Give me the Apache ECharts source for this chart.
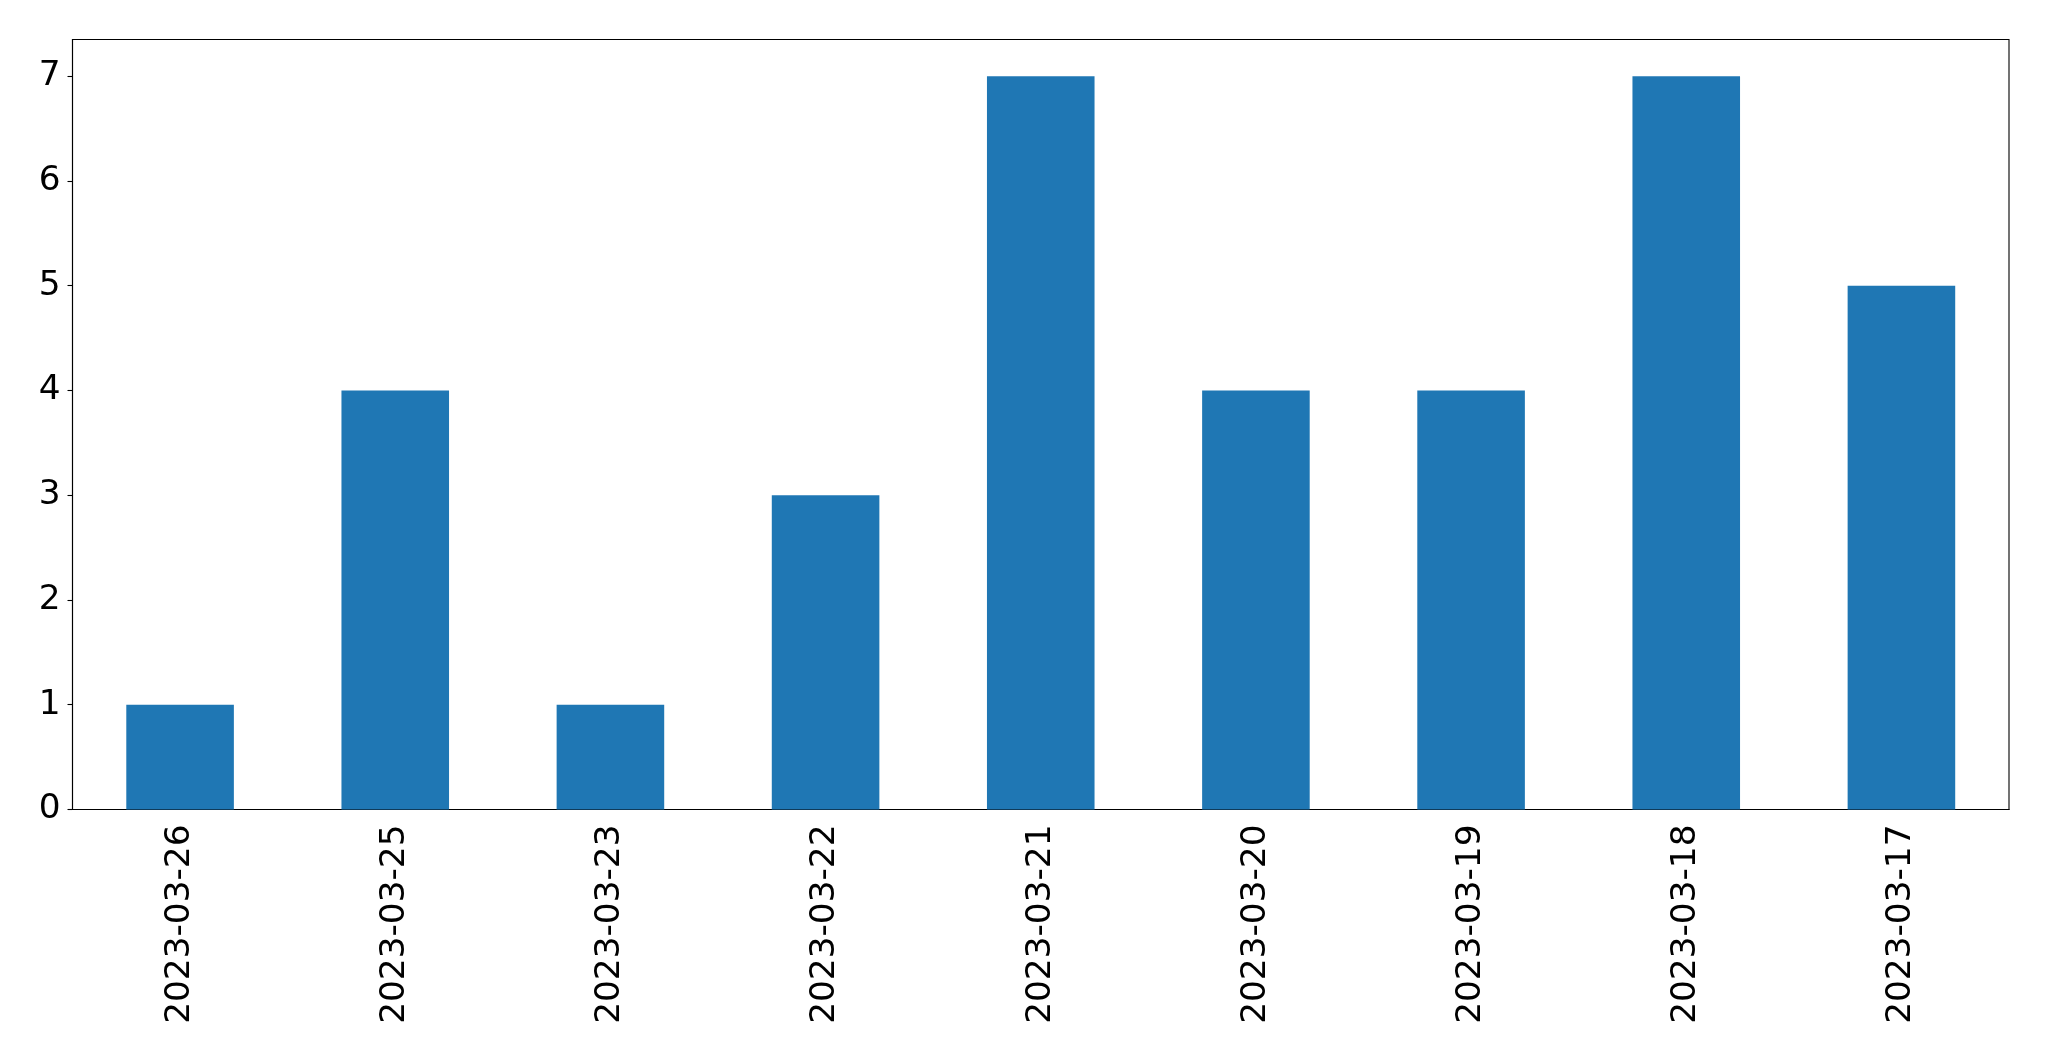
<!DOCTYPE html>
<html>
<head>
<meta charset="utf-8">
<script src="https://cdn.jsdelivr.net/npm/echarts@6/dist/echarts.min.js"></script>
<style>
  html, body { margin: 0; padding: 0; background: #fff; }
  #chart { width: 2049px; height: 1061px; }
</style>
</head>
<body>
<div id="chart"></div>
<script>
const categories = ['2023-03-26', '2023-03-25', '2023-03-23', '2023-03-22', '2023-03-21', '2023-03-20', '2023-03-19', '2023-03-18', '2023-03-17']
const counts = [1, 4, 1, 3, 7, 4, 4, 7, 5]
const yTicks = [0, 1, 2, 3, 4, 5, 6, 7]

const chart = echarts.init(document.getElementById('chart'))
const font = 'DejaVu Sans'

const option = {
  animation: false,
  grid: {
    left: 72.5,
    right: 40,
    top: 39.5,
    bottom: 251.5,
    show: true,
    borderColor: '#000',
    borderWidth: 1.1
  },
  xAxis: {
    type: 'category',
    data: categories,
    boundaryGap: true,
    axisLine: { lineStyle: { color: '#000', width: 1.1 } },
    axisTick: { alignWithLabel: true, length: 5, lineStyle: { color: '#000', width: 1.1 } },
    axisLabel: {
      rotate: 90,
      margin: 15,
      color: '#000',
      fontFamily: font,
      fontSize: 34.3
    },
    splitLine: { show: false }
  },
  yAxis: {
    type: 'value',
    min: 0,
    max: 7.35,
    interval: 1,
    axisLine: { show: true, lineStyle: { color: '#000', width: 1.1 } },
    axisTick: { show: true, length: 5, customValues: yTicks, lineStyle: { color: '#000', width: 1.1 } },
    axisLabel: {
      customValues: yTicks,
      margin: 12,
      color: '#000',
      fontFamily: font,
      fontSize: 34.3
    },
    splitLine: { show: false }
  },
  series: [
    {
      type: 'bar',
      data: counts,
      barWidth: '50%',
      itemStyle: { color: '#1f77b4' }
    }
  ]
}
chart.setOption(option)
</script>
</body>
</html>
